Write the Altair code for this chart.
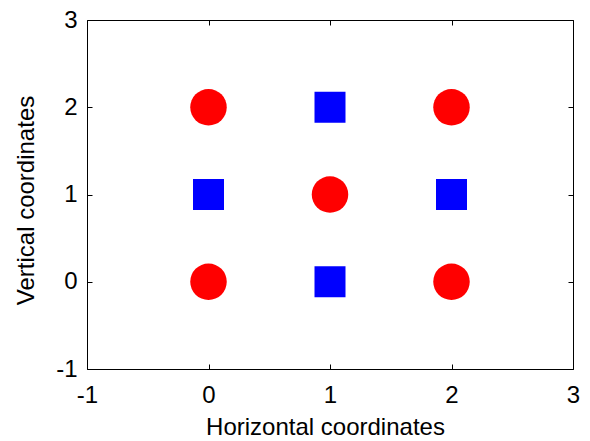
import altair as alt
import pandas as pd

# Data
circle_x = [0, 2, 1, 0, 2]
circle_y = [0, 0, 1, 2, 2]
square_x = [1, 0, 2, 1]
square_y = [0, 1, 1, 2]
tick_values = [-1, 0, 1, 2, 3]

circles = pd.DataFrame({"x": circle_x, "y": circle_y})
squares = pd.DataFrame({"x": square_x, "y": square_y})

FONT = "Liberation Sans"
axis_style = dict(
    values=tick_values,
    offset=-5,
    tickSize=5,
    tickColor="black",
    tickWidth=1,
    domain=False,
    grid=False,
    labelFont=FONT,
    labelFontSize=24,
    labelColor="black",
    labelFlush=False,
    labelOverlap=False,
    labelExpr="datum.value + ''",
    titleFont=FONT,
    titleFontSize=24,
    titleFontWeight="normal",
    titleColor="black",
)

xscale = alt.Scale(domain=[-1, 3], nice=False, zero=False)
yscale = alt.Scale(domain=[-1, 3], nice=False, zero=False)

circ = alt.Chart(circles).mark_point(
    shape="circle", filled=True, color="#FF0000", size=1332, opacity=1, strokeWidth=0
).encode(
    x=alt.X("x:Q", scale=xscale,
            axis=alt.Axis(orient="bottom", title="Horizontal coordinates",
                          labelPadding=14, titlePadding=8, titleX=238, **axis_style)),
    y=alt.Y("y:Q", scale=yscale,
            axis=alt.Axis(orient="left", title="Vertical coordinates",
                          labelPadding=10, titlePadding=17, titleY=180, **axis_style)),
)

sq = alt.Chart(squares).mark_point(
    shape="square", filled=True, color="#0000FF", size=961, opacity=1, strokeWidth=0
).encode(
    x=alt.X("x:Q", scale=xscale,
            axis=alt.Axis(orient="top", title="", labels=False, **axis_style)),
    y=alt.Y("y:Q", scale=yscale,
            axis=alt.Axis(orient="right", title="", labels=False, **axis_style)),
)

chart = (
    alt.layer(circ, sq)
    .resolve_scale(x="shared", y="shared")
    .resolve_axis(x="independent", y="independent")
    .properties(
        width=486,
        height=349,
        autosize=alt.AutoSizeParams(type="none"),
        padding={"left": 87, "top": 20, "right": 17, "bottom": 72},
        background="white",
    )
    .configure_view(stroke="black", strokeWidth=1)
)

chart.save("out.html", embed_options={"renderer": "svg", "actions": False})
